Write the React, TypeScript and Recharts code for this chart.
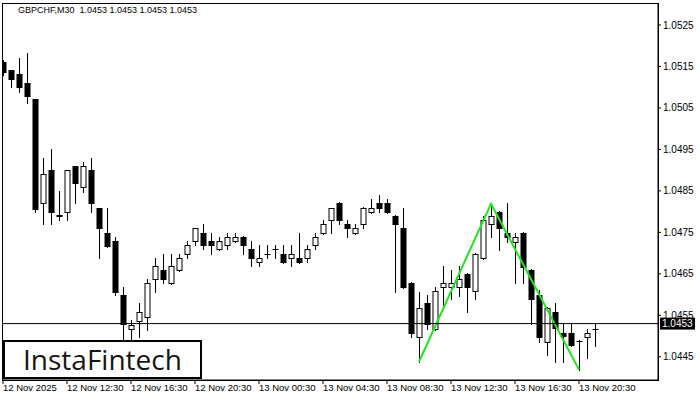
import { ComposedChart, Bar, Line, XAxis, YAxis, ReferenceLine } from "recharts";

// GBPCHF M30 candles (one value per bar)
const opens = [
  1.05161, 1.05142, 1.05132, 1.0511, 1.05072, 1.04821, 1.04901, 1.04792, 1.04799, 1.0491,
  1.0486, 1.04901, 1.04809, 1.04749, 1.04729, 1.04599, 1.04517, 1.04537, 1.04546, 1.04638,
  1.0466, 1.04628, 1.0466, 1.04698, 1.04729, 1.04749, 1.04729, 1.0471, 1.0472, 1.04729,
  1.04739, 1.0471, 1.04679, 1.04699, 1.04711, 1.04698, 1.04688, 1.04688, 1.04688, 1.0472,
  1.04749, 1.0478, 1.04821, 1.0477, 1.04749, 1.0477, 1.04799, 1.04821, 1.04821, 1.0479,
  1.04761, 1.04628, 1.04498, 1.0458, 1.04517, 1.04619, 1.04619, 1.04619, 1.0465, 1.04609,
  1.04688, 1.0477, 1.04799, 1.04749, 1.04727, 1.04749, 1.0466, 1.04599, 1.04486, 1.04558,
  1.04508, 1.04508, 1.04489, 1.04498, 1.04518,
];
const highs = [
  1.05166, 1.05142, 1.0517, 1.05183, 1.05072, 1.04929, 1.04951, 1.0485, 1.04901, 1.0491,
  1.0492, 1.04929, 1.04809, 1.04809, 1.04739, 1.04619, 1.04539, 1.0458, 1.04638, 1.04688,
  1.04698, 1.04698, 1.04698, 1.04729, 1.04761, 1.0477, 1.04749, 1.04739, 1.04749, 1.04749,
  1.04741, 1.04729, 1.0472, 1.0472, 1.0472, 1.0472, 1.0472, 1.04749, 1.0472, 1.04749,
  1.0478, 1.04809, 1.04823, 1.0478, 1.0477, 1.04811, 1.04831, 1.0484, 1.04831, 1.04792,
  1.04809, 1.0463, 1.04607, 1.04599, 1.04619, 1.04669, 1.0466, 1.04669, 1.04652, 1.047,
  1.0479, 1.04819, 1.04801, 1.04821, 1.04749, 1.04751, 1.04662, 1.04611, 1.0457, 1.0458,
  1.04532, 1.04532, 1.0449, 1.04517, 1.04529,
];
const lows = [
  1.0513, 1.05101, 1.05089, 1.05062, 1.04799, 1.0477, 1.0477, 1.0478, 1.0478, 1.04821,
  1.04848, 1.04799, 1.04688, 1.04715, 1.046, 1.04479, 1.04479, 1.04498, 1.04515, 1.04607,
  1.04628, 1.04626, 1.04658, 1.04688, 1.0472, 1.0471, 1.04698, 1.04708, 1.0471, 1.04727,
  1.04698, 1.04669, 1.04669, 1.04688, 1.04688, 1.04677, 1.04669, 1.04677, 1.04679, 1.0471,
  1.04747, 1.04749, 1.0477, 1.04739, 1.04747, 1.04761, 1.04797, 1.04799, 1.04797, 1.04607,
  1.04617, 1.04498, 1.04438, 1.04517, 1.04515, 1.04568, 1.0459, 1.04597, 1.04558, 1.0459,
  1.04686, 1.04739, 1.04708, 1.04727, 1.04628, 1.04628, 1.04529, 1.04486, 1.04455, 1.04438,
  1.04438, 1.04477, 1.04419, 1.04447, 1.04476,
];
const closes = [
  1.05137, 1.0512, 1.05101, 1.05079, 1.04807, 1.04891, 1.04799, 1.0479, 1.04901, 1.04869,
  1.0491, 1.04821, 1.04761, 1.04717, 1.04607, 1.04529, 1.04527, 1.04558, 1.04628, 1.04669,
  1.04638, 1.04669, 1.04688, 1.0472, 1.04761, 1.0472, 1.0472, 1.04729, 1.04739, 1.04739,
  1.0472, 1.04688, 1.04688, 1.04698, 1.0471, 1.04679, 1.04698, 1.04679, 1.0471, 1.04739,
  1.0477, 1.04809, 1.0478, 1.04761, 1.04761, 1.04809, 1.04809, 1.04809, 1.04799, 1.0477,
  1.04619, 1.04508, 1.04568, 1.04529, 1.04609, 1.04628, 1.04628, 1.04638, 1.04619, 1.04698,
  1.0478, 1.0479, 1.04761, 1.04739, 1.04739, 1.04667, 1.0459, 1.04498, 1.04568, 1.0452,
  1.045, 1.04479, 1.04488, 1.04508, 1.04517,
];

// double top outline: low -> peak -> low
const patternBars = [52, 61, 72];
const patternPrices = [1.04438, 1.04819, 1.04419];

const timeTicks = [0, 8, 16, 24, 32, 40, 48, 56, 64, 72];
const timeLabels = [
  "12 Nov 2025", "12 Nov 12:30", "12 Nov 16:30", "12 Nov 20:30", "13 Nov 00:30",
  "13 Nov 04:30", "13 Nov 08:30", "13 Nov 12:30", "13 Nov 16:30", "13 Nov 20:30",
];
const priceTicks = [1.0445, 1.0455, 1.0465, 1.0475, 1.0485, 1.0495, 1.0505, 1.0515, 1.0525];
const lastPrice = 1.0453;

const data = opens.map((o, i) => {
  const k = patternBars.indexOf(i);
  return {
    i,
    open: o,
    high: highs[i],
    low: lows[i],
    close: closes[i],
    range: [lows[i], highs[i]],
    pattern: k >= 0 ? patternPrices[k] : null,
  };
});

const FONT = "'Liberation Sans', Arial, sans-serif";

function Candle(props: any) {
  const { x, y, width, height, payload } = props;
  const { open, close, high, low } = payload;
  const yTop = Math.min(y, y + height);
  const h = Math.abs(height);
  const span = high - low || 1e-9;
  const py = (p: number) => yTop + ((high - p) / span) * h;
  const cx = Math.round(x + width / 2) + 0.5;
  const bull = close > open;
  const top = Math.round(py(Math.max(open, close))) + 0.5;
  const bot = Math.round(py(Math.min(open, close))) + 0.5;
  return (
    <g>
      <line x1={cx} x2={cx} y1={Math.round(yTop)} y2={Math.round(yTop + h) + 1} stroke="#000" />
      {bot - top < 1 ? (
        <line x1={cx - 3} x2={cx + 3} y1={top} y2={top} stroke="#000" />
      ) : (
        <rect
          x={cx - 2.5}
          y={top}
          width={5}
          height={bot - top}
          fill={bull ? "#fff" : "#000"}
          stroke="#000"
        />
      )}
    </g>
  );
}

function TimeTick(props: any) {
  const { x, y, payload } = props;
  const label = timeLabels[timeTicks.indexOf(payload.value)];
  return (
    <text x={x} y={y} dy="0.71em" textAnchor="start" fontSize={9.5} fill="#000" fontFamily={FONT}>
      {label}
    </text>
  );
}

function PriceTag(props: any) {
  const vb = props.viewBox;
  const x = vb.x + vb.width + 2;
  return (
    <g>
      <rect x={x} y={vb.y - 6} width={35} height={12} fill="#000" />
      <text x={x + 2} y={vb.y} dy="0.355em" fontSize={10} fill="#fff" fontFamily={FONT}>
        {lastPrice.toFixed(4)}
      </text>
    </g>
  );
}

export default function App() {
  return (
    <div style={{ position: "absolute", left: 0, top: 0, width: 700, height: 400, background: "#fff" }}>
      <ComposedChart
        width={700}
        height={400}
        data={data}
        margin={{ top: 3, left: 2, right: 0, bottom: 0 }}
      >
        <XAxis
          dataKey="i"
          type="number"
          domain={[-0.125, 81.875]}
          ticks={timeTicks}
          interval={0}
          tick={<TimeTick />}
          tickSize={4}
          tickMargin={0}
          height={20}
          axisLine={{ stroke: "#000" }}
          tickLine={{ stroke: "#000" }}
          allowDataOverflow
        />
        <YAxis
          orientation="right"
          type="number"
          domain={[1.04394, 1.05303]}
          ticks={priceTicks}
          interval={0}
          tickFormatter={(v: number) => v.toFixed(4)}
          tick={{ fontSize: 10, fill: "#000", fontFamily: FONT }}
          tickSize={3}
          tickMargin={2}
          width={42}
          axisLine={{ stroke: "#000" }}
          tickLine={{ stroke: "#000" }}
          allowDataOverflow
        />
        <Bar dataKey="range" barSize={5} shape={<Candle />} isAnimationActive={false} />
        <Line
          dataKey="pattern"
          stroke="#1ee61e"
          strokeWidth={2}
          dot={false}
          connectNulls
          isAnimationActive={false}
        />
        <ReferenceLine y={lastPrice} stroke="#000" label={<PriceTag />} />
      </ComposedChart>

      {/* frame around the plot area */}
      <div
        style={{
          position: "absolute",
          left: 2,
          top: 3,
          width: 657,
          height: 378,
          border: "1px solid #000",
          boxSizing: "border-box",
          pointerEvents: "none",
        }}
      />

      <div
        style={{
          position: "absolute",
          left: 18,
          top: 5,
          fontFamily: FONT,
          fontSize: 9,
          color: "#000",
          whiteSpace: "pre",
        }}
      >
        {"GBPCHF,M30  1.0453 1.0453 1.0453 1.0453"}
      </div>

      <div
        style={{
          position: "absolute",
          left: 3,
          top: 340,
          width: 199,
          height: 39,
          border: "2px solid #000",
          boxSizing: "border-box",
          background: "#fff",
          fontFamily: "'Open Sans', sans-serif",
          fontSize: 28,
          fontWeight: 500,
          color: "#161616",
          lineHeight: "34px",
          paddingLeft: 18,
        }}
      >
        InstaFintech
      </div>
    </div>
  );
}
